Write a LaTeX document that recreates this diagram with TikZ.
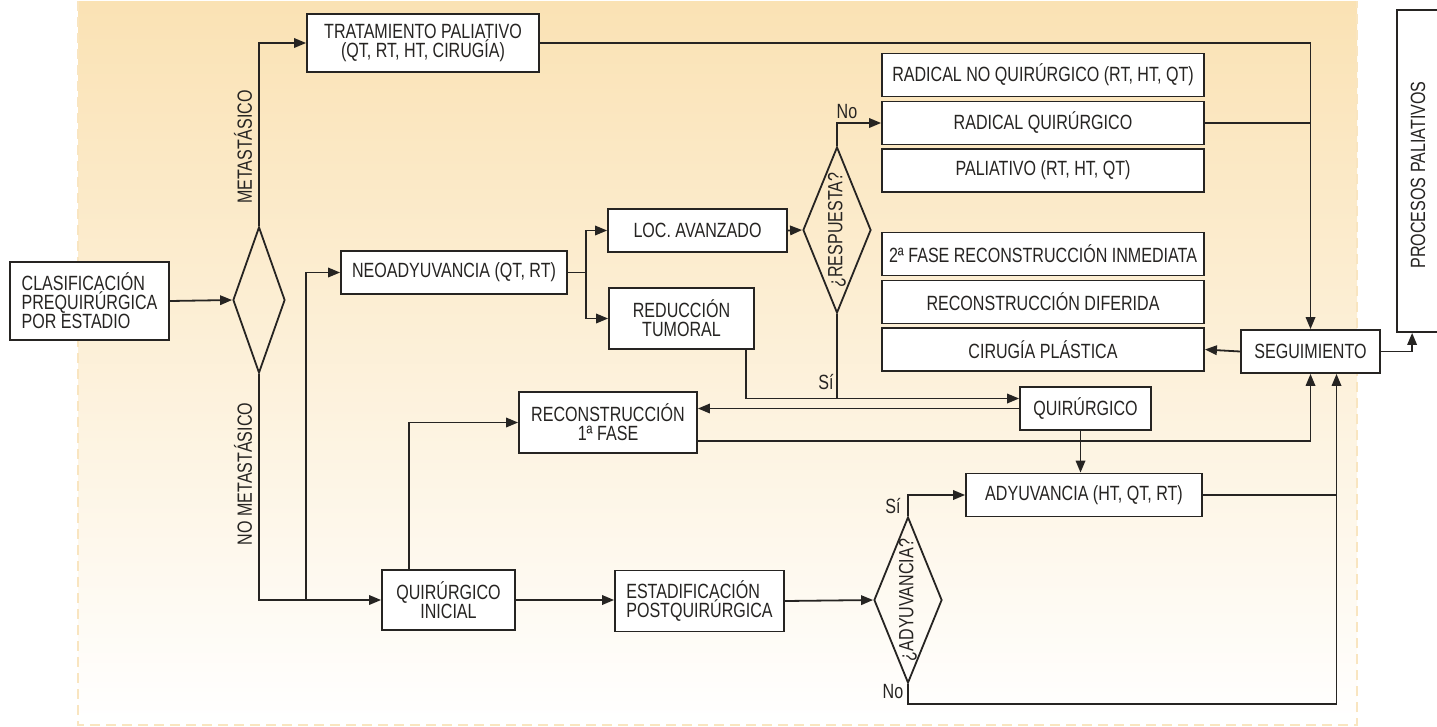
\documentclass[tikz,border=0pt]{standalone}
\usepackage{fontspec}
\setmainfont[FakeStretch=0.78]{Liberation Sans}
\usetikzlibrary{shapes.geometric, arrows.meta, calc}

\definecolor{bgtop}{RGB}{250,226,180}
\definecolor{bgedge}{RGB}{249,229,192}
\definecolor{ink}{RGB}{38,36,34}

\begin{document}
\begin{tikzpicture}[x=1pt, y=-1pt,
    font=\fontsize{20.6}{19}\selectfont,
    box/.style={draw=ink, line width=1.8pt, fill=white, inner sep=2pt, align=center, text=ink},
    decision/.style={diamond, draw=ink, line width=1.8pt, inner sep=0pt},
    arr/.style={draw=ink, line width=1.8pt, -{Triangle[length=12pt, width=9.5pt]}},
    link/.style={draw=ink, line width=1.8pt},
    tag/.style={inner sep=0pt, text=ink},
    side/.style={tag, rotate=90}]
    \useasboundingbox (0,0) rectangle (1437,726);

    % Background panel
    \shade[top color=bgtop, bottom color=white] (78,1) rectangle (1357,725);
    \draw[bgedge, line width=2pt, dash pattern=on 10pt off 6pt] (78,1) -- (78,725) -- (1357,725) -- (1357,1);

    % Left part
    \node[box, align=left, minimum width=159pt, minimum height=78pt] (clas) at (89.5,301) {CLASIFICACIÓN\\PREQUIRÚRGICA\\POR ESTADIO};
    \node[decision, minimum width=52pt, minimum height=146pt] (dmeta) at (259,300) {};
    \node[box, minimum width=232pt, minimum height=58pt] (trat) at (423,43) {TRATAMIENTO PALIATIVO\\(QT, RT, HT, CIRUGÍA)};
    \node[box, minimum width=226pt, minimum height=43pt] (neo) at (454,272.5) {NEOADYUVANCIA (QT, RT)};
    \node[box, minimum width=133pt, minimum height=60pt] (qi) at (448.5,600) {QUIRÚRGICO\\INICIAL};

    % Middle part
    \node[box, minimum width=179pt, minimum height=43pt] (loc) at (697.5,230.5) {LOC. AVANZADO};
    \node[box, minimum width=145pt, minimum height=61pt] (red) at (681.5,318.5) {REDUCCIÓN\\TUMORAL};
    \node[decision, minimum width=68pt, minimum height=166pt] (dresp) at (837,230) {};
    \node[tag, rotate=90] (dresptxt) at (dresp) {¿RESPUESTA?};
    \node[box, minimum width=131pt, minimum height=43pt] (quir) at (1085.5,408.5) {QUIRÚRGICO};
    \node[box, minimum width=178pt, minimum height=61pt] (rec) at (608,422.5) {RECONSTRUCCIÓN\\1ª FASE};
    \node[box, align=left, minimum width=169pt, minimum height=61pt] (est) at (699.5,601) {ESTADIFICACIÓN\\POSTQUIRÚRGICA};
    \node[decision, minimum width=68pt, minimum height=166pt] (dady) at (908,600) {};
    \node[tag, rotate=90] (dadytxt) at (dady) {¿ADYUVANCIA?};
    \node[box, minimum width=236pt, minimum height=43pt] (ady) at (1084,495) {ADYUVANCIA (HT, QT, RT)};

    % Right column
    \foreach \n/\y/\txt in {{rnq/75/RADICAL NO QUIRÚRGICO (RT, HT, QT)}, rq/123/RADICAL QUIRÚRGICO,
        {pal/170.5/PALIATIVO (RT, HT, QT)}, rif/254/2ª FASE RECONSTRUCCIÓN INMEDIATA,
        rdif/302/RECONSTRUCCIÓN DIFERIDA, cp/349.5/CIRUGÍA PLÁSTICA}
        \node[box, minimum width=322pt, minimum height=43pt] (\n) at (1043,\y) {\txt};
    \node[box, minimum width=139pt, minimum height=43pt] (seg) at (1310.5,351.5) {SEGUIMIENTO};
    \node[draw=ink, line width=1.8pt, fill=white, minimum width=60pt, minimum height=322pt, inner sep=0pt] (proc) at (1427,171) {};
    \node[tag, rotate=90] (proctxt) at (1418,175) {PROCESOS PALIATIVOS};

    % Connectors
    \draw[arr] (clas.east) -- (dmeta.west);
    \draw[arr] (dmeta.north) |- (trat.west);
    \draw[arr] (dmeta.south) |- (qi.west);
    \coordinate (split) at ($(dmeta.south |- qi.west)+(47,0)$);
    \draw[arr] (split) |- (neo.west);
    \coordinate (fork) at ($(neo.east)+(18,0)$);
    \draw[arr] (neo.east) -- (fork) |- (loc.west);
    \draw[arr] (fork) |- (red.west);
    \draw[arr] (loc.east) -- (dresp.west);
    \draw[arr] (dresp.north) |- (rq.west);
    \coordinate (qin) at ([yshift=10pt]quir.west);
    \draw[arr] ([xshift=-9pt]red.south east) |- (qin);
    \draw[link] (dresp.south) -- (dresp.south |- qin);
    \draw[arr] (quir.west) -- (quir.west -| rec.east);
    \draw[arr] ([xshift=28pt]qi.north west) |- (rec.west);
    \draw[arr] ([yshift=-18.5pt]rec.east) -| (seg.south);
    \draw[arr] (qi.east) -- (qi.east -| est.west);
    \draw[arr] (est.east) -- (dady.west);
    \draw[arr] (dady.north) |- (ady.west);
    \coordinate (segin) at ([xshift=26pt]seg.south);
    \draw[arr] (dady.south) -- ++(0,20) -| (segin);
    \draw[link] (ady.east) -- (ady.east -| segin);
    \draw[arr] ([xshift=-5pt]quir.south) -- ([xshift=-5pt]quir.south |- ady.north);
    \draw[arr] (trat.east) -| (seg.north);
    \draw[link] (rq.east) -- (rq.east -| seg.north);
    \draw[arr] (seg.west) -- (cp.east);
    \draw[arr] (seg.east) -| ([xshift=16pt]proc.south west);

    % Labels
    \node[side] (lmeta) at (243,147) {METASTÁSICO};
    \node[side] (lnometa) at (243,474) {NO METASTÁSICO};
    \node[tag] (lno1) at (847,112) {No};
    \node[tag] (lsi1) at (826,382) {Sí};
    \node[tag] (lsi2) at (893,506) {Sí};
    \node[tag] (lno2) at (893,692) {No};
\end{tikzpicture}
\end{document}
